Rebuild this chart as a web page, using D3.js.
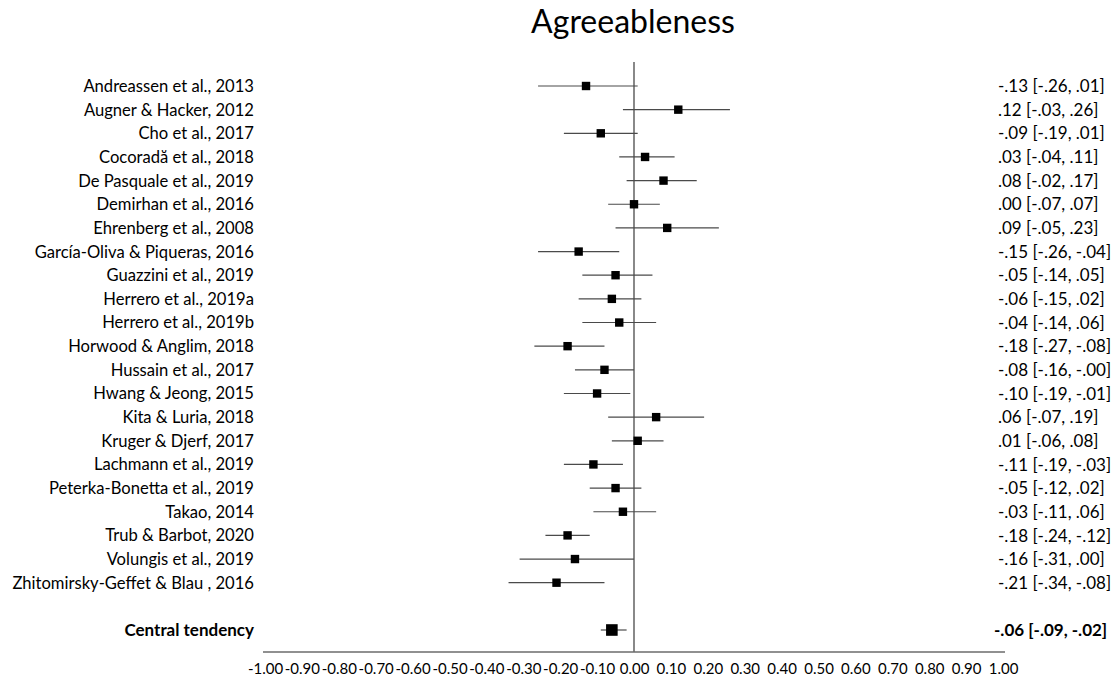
<!DOCTYPE html>
<html>
<head>
<meta charset="utf-8">
<script src="https://cdn.jsdelivr.net/npm/d3@7"></script>
<style>
  html, body { margin: 0; padding: 0; background: #fff; }
  svg { display: block; }
  text { font-family: Lato, "Open Sans", sans-serif; fill: #000; }
</style>
</head>
<body>
<svg id="chart" width="1120" height="686"></svg>
<script>
const title = "Agreeableness";
const studies = [
  "Andreassen et al., 2013",
  "Augner & Hacker, 2012",
  "Cho et al., 2017",
  "Cocoradă et al., 2018",
  "De Pasquale et al., 2019",
  "Demirhan et al., 2016",
  "Ehrenberg et al., 2008",
  "García-Oliva & Piqueras, 2016",
  "Guazzini et al., 2019",
  "Herrero et al., 2019a",
  "Herrero et al., 2019b",
  "Horwood & Anglim, 2018",
  "Hussain et al., 2017",
  "Hwang & Jeong, 2015",
  "Kita & Luria, 2018",
  "Kruger & Djerf, 2017",
  "Lachmann et al., 2019",
  "Peterka-Bonetta et al., 2019",
  "Takao, 2014",
  "Trub & Barbot, 2020",
  "Volungis et al., 2019",
  "Zhitomirsky-Geffet & Blau , 2016"
];
const estimates = [-0.13, 0.12, -0.09, 0.03, 0.08, 0.00, 0.09, -0.15, -0.05, -0.06, -0.04, -0.18, -0.08, -0.10, 0.06, 0.01, -0.11, -0.05, -0.03, -0.18, -0.16, -0.21];
const lower =     [-0.26, -0.03, -0.19, -0.04, -0.02, -0.07, -0.05, -0.26, -0.14, -0.15, -0.14, -0.27, -0.16, -0.19, -0.07, -0.06, -0.19, -0.12, -0.11, -0.24, -0.31, -0.34];
const upper =     [0.01, 0.26, 0.01, 0.11, 0.17, 0.07, 0.23, -0.04, 0.05, 0.02, 0.06, -0.08, -0, -0.01, 0.19, 0.08, -0.03, 0.02, 0.06, -0.12, 0.00, -0.08];
const summaryLabel = "Central tendency";
const summaryEstimate = -0.06;
const summaryLower = -0.09;
const summaryUpper = -0.02;
const tickValues = [-1.00, -0.90, -0.80, -0.70, -0.60, -0.50, -0.40, -0.30, -0.20, -0.10, 0.00, 0.10, 0.20, 0.30, 0.40, 0.50, 0.60, 0.70, 0.80, 0.90, 1.00];

const svg = d3.select("#chart");

const x = d3.scaleLinear().domain([-1, 1]).range([265, 1003]);
const y = d3.scaleLinear().domain([0, 23]).range([86, 630]);
const summaryRow = 23;

const fmt = v => ((v < 0 || Object.is(v, -0)) ? "-" : "") + Math.abs(v).toFixed(2).replace(/^0/, "");
const ciText = (e, l, u) => `${fmt(e)} [${fmt(l)}, ${fmt(u)}]`;

const rows = studies.map((s, i) => ({ study: s, est: estimates[i], lo: lower[i], hi: upper[i], row: i }));

// title
svg.append("text")
  .attr("x", 633).attr("y", 33)
  .attr("text-anchor", "middle")
  .style("font-size", "32px")
  .text(title);

// zero line
svg.append("line")
  .attr("x1", x(0)).attr("x2", x(0))
  .attr("y1", 62).attr("y2", 652)
  .attr("stroke", "#6b6b6b").attr("stroke-width", 1.6);

// axis
const axis = d3.axisBottom(x)
  .tickValues(tickValues)
  .tickSize(0)
  .tickPadding(11)
  .tickFormat(d => (d < 0 ? "-" : "") + Math.abs(d).toFixed(2));
const ax = svg.append("g").attr("transform", "translate(0,652)").call(axis);
ax.select(".domain").attr("stroke", "#6b6b6b").attr("stroke-width", 1.6)
  .attr("d", `M${x(-1) - 2},0H${x(1) + 2}`);
ax.selectAll("text").style("font-size", "15px").style("font-family", "Lato, sans-serif").attr("fill", "#000");

// study rows
const g = svg.append("g");
g.selectAll("line.ci").data(rows).join("line")
  .attr("class", "ci")
  .attr("x1", d => x(d.lo)).attr("x2", d => x(d.hi))
  .attr("y1", d => y(d.row)).attr("y2", d => y(d.row))
  .attr("stroke", "#4a4a4a").attr("stroke-width", 1.2);
g.selectAll("rect.pt").data(rows).join("rect")
  .attr("class", "pt")
  .attr("x", d => x(d.est) - 4.2).attr("y", d => y(d.row) - 4.2)
  .attr("width", 8.4).attr("height", 8.4)
  .attr("fill", "#000");
g.selectAll("text.lab").data(rows).join("text")
  .attr("class", "lab")
  .attr("x", 254).attr("y", d => y(d.row))
  .attr("dy", "0.36em")
  .attr("text-anchor", "end")
  .style("font-size", "16.6px")
  .text(d => d.study);
g.selectAll("text.val").data(rows).join("text")
  .attr("class", "val")
  .attr("x", 998).attr("y", d => y(d.row))
  .attr("dy", "0.36em")
  .style("font-size", "17px")
  .text(d => ciText(d.est, d.lo, d.hi));

// summary
const sy = y(summaryRow);
svg.append("line")
  .attr("x1", x(summaryLower)).attr("x2", x(summaryUpper))
  .attr("y1", sy).attr("y2", sy)
  .attr("stroke", "#4a4a4a").attr("stroke-width", 1.2);
svg.append("rect")
  .attr("x", x(summaryEstimate) - 5.8).attr("y", sy - 5.8)
  .attr("width", 11.6).attr("height", 11.6)
  .attr("fill", "#000");
svg.append("text")
  .attr("x", 254).attr("y", sy).attr("dy", "0.36em")
  .attr("text-anchor", "end")
  .style("font-size", "17px").style("font-weight", "bold")
  .text(summaryLabel);
svg.append("text")
  .attr("x", 994).attr("y", sy).attr("dy", "0.36em")
  .style("font-size", "17px").style("font-weight", "bold")
  .text(ciText(summaryEstimate, summaryLower, summaryUpper));
</script>
</body>
</html>
